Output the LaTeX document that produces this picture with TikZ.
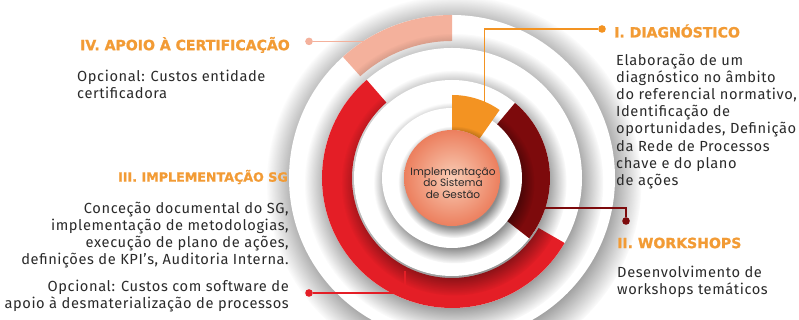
\documentclass[tikz,border=0pt]{standalone}
\usepackage{fontspec}
\setmainfont{Fira Sans}[LetterSpace=4]
\newfontfamily\ballfont{Poppins}
\newfontfamily\capsfont{DejaVu Sans}[BoldFeatures={FakeBold=1.3}]
\usetikzlibrary{calc,fadings}

\definecolor{diagorange}{HTML}{F39322}
\definecolor{headorange}{HTML}{F29B35}
\definecolor{wsred}{HTML}{7D0A0C}
\definecolor{implred}{HTML}{E41E26}
\definecolor{certpink}{HTML}{F4B19C}
\definecolor{txtgray}{HTML}{2A2A2A}
\definecolor{ballhi}{HTML}{F9CDB6}
\definecolor{balllo}{HTML}{EC7F5E}

\pgfdeclareradialshading{ringfadeshade}{\pgfpointorigin}{color(0bp)=(white); color(20bp)=(white); color(25bp)=(black); color(50bp)=(black)}
\pgfdeclarefading{ringfade}{\pgfuseshading{ringfadeshade}}

\newcommand\headfont{\capsfont\fontsize{12}{14}\selectfont\bfseries}
\newcommand\txtfont{\fontsize{12.5}{14.6}\selectfont}

% colour, from, to, outer radius, inner radius
\newcommand\ringpart[5]{%
  \fill[#1] ([shift={(#2:#4)}]ctr) arc[start angle=#2, end angle=#3, radius=#4]
    -- ([shift={(#3:#5)}]ctr) arc[start angle=#3, end angle=#2, radius=#5] -- cycle;}
% white disc with its shadow
\newcommand\whitedisc[1]{%
  \fill[black, opacity=.45, path fading=ringfade] ([shift={(2,-5)}]ctr) circle[radius=1.15*#1];
  \fill[white] (ctr) circle[radius=#1];}

\begin{document}
\begin{tikzpicture}[x=0.03cm, y=0.03cm,
  head/.style={font=\headfont, text=headorange, inner sep=0},
  body/.style={font=\txtfont, text=txtgray, inner sep=0},
  dot/.style={circle, inner sep=0, minimum size=6.5pt},
  link/.style={line width=1.3pt}]
\useasboundingbox (0,0) rectangle (799,320);
\coordinate (ctr) at (452,142);

% rings
\whitedisc{163}
\ringpart{certpink}{90}{132}{163}{137}
\whitedisc{130}
\ringpart{implred}{131}{330}{130}{100}
\whitedisc{98}
\ringpart{wsred}{-38}{50}{98}{65}
\whitedisc{70}
\ringpart{diagorange}{55}{90}{83}{48}

% centre ball
\fill[black, opacity=.45, path fading=ringfade] ([shift={(2,-4)}]ctr) circle[radius=56];
\shade[inner color=ballhi, outer color=balllo] (ctr) circle[radius=48];
\node[font=\ballfont\fontsize{9}{10}\selectfont, text=txtgray, align=center] (core) at (453,137) {Implementação\\do Sistema\\de Gestão};

% end points in the rings
\coordinate (endI) at ([shift={(66:80)}]ctr);
\coordinate (endII) at ([shift={(-19:92)}]ctr);
\coordinate (endIII) at ([shift={(243:104)}]ctr);
\coordinate (endIV) at ([shift={(116:152)}]ctr);

\node[dot, fill=diagorange] (dotI) at (602,291) {};
\node[dot, fill=wsred] (dotII) at (626,99) {};
\node[dot, fill=implred] (dotIII) at (309,27) {};
\node[dot, fill=certpink] (dotIV) at (endIV -| 309,0) {};

\draw[link, diagorange] (dotI) -| (endI);
\draw[link, wsred] (endII) -| (dotII);
\draw[link, implred] (dotIII) -| (endIII);
\draw[link, certpink] (dotIV) -- (endIV);

% texts
\node[head, anchor=west] (hI) at (614,289) {I. DIAGNÓSTICO};
\node[body, anchor=north west, align=left] (bI) at (616,266) {Elaboração de um\\diagnóstico no âmbito\\do referencial normativo,\\Identificação de\\oportunidades, Definição\\da Rede de Processos\\chave e do plano\\de ações};
\node[head, anchor=west] (hII) at (617,77) {II. WORKSHOPS};
\node[body, anchor=north west, align=left] (bII) at (617,54) {Desenvolvimento de\\workshops temáticos};
\node[head, anchor=east, font=\headfont\fontsize{10.8}{13}\selectfont] (hIII) at (288,143) {III. IMPLEMENTAÇÃO SG};
\node[body, anchor=north east, align=right] (bIIIa) at (289,118) {Conceção documental do SG,\\implementação de metodologias,\\execução de plano de ações,\\definições de KPI's, Auditoria Interna.};
\node[body, anchor=north east, align=right] (bIIIb) at (289,40) {Opcional: Custos com software de\\apoio à desmaterialização de processos};
\node[head, anchor=east] (hIV) at (290,275) {IV. APOIO À CERTIFICAÇÃO};
\node[body, anchor=north west, align=left] (bIV) at (77,250) {Opcional: Custos entidade\\certificadora};
\end{tikzpicture}
\end{document}
